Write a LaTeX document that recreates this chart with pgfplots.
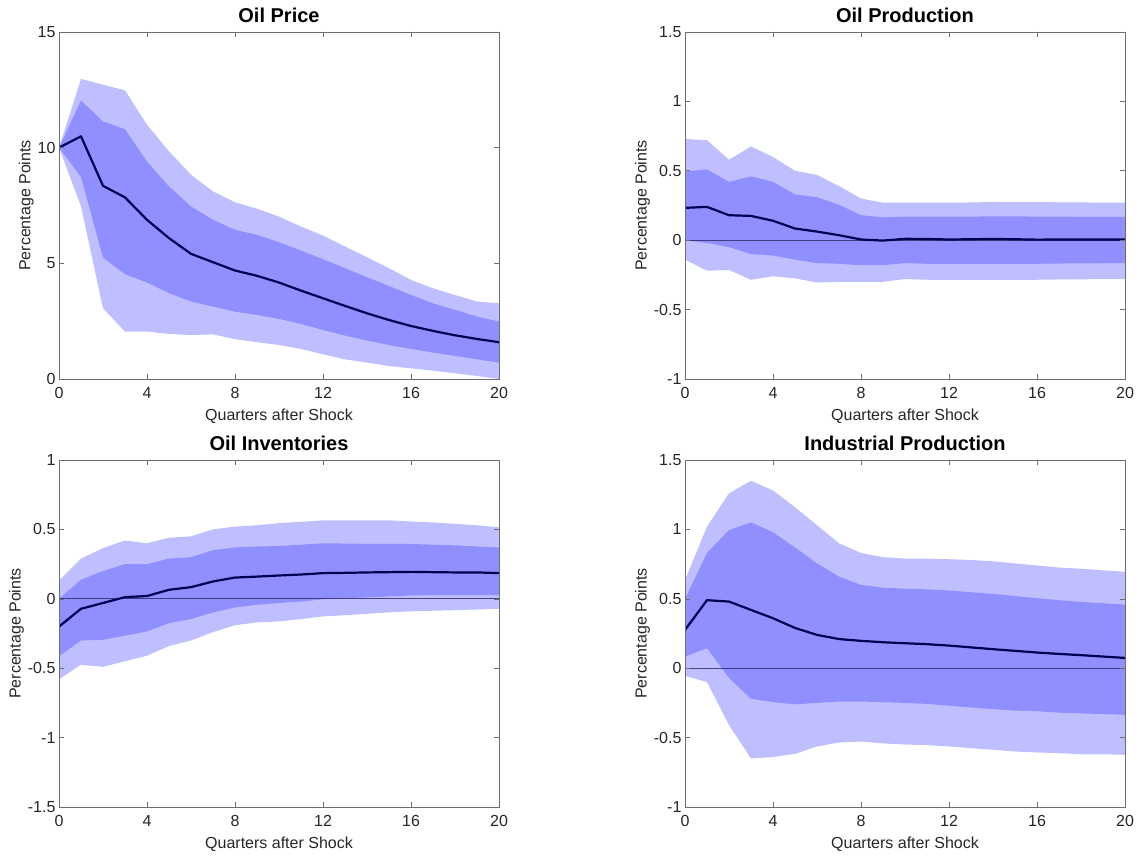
\documentclass[border=0pt]{standalone}
\usepackage{fontspec}
\setmainfont{Liberation Sans}
\usepackage{pgfplots}
\pgfplotsset{compat=1.18}
\usepackage{pgfplotstable}
\usepgfplotslibrary{fillbetween}

\definecolor{bandlight}{RGB}{191,191,255}
\definecolor{banddark}{RGB}{143,143,255}
\definecolor{irfline}{RGB}{0,0,80}
\definecolor{zeroline}{RGB}{40,40,90}
\definecolor{axisgray}{RGB}{110,110,110}
\definecolor{labelgray}{RGB}{38,38,38}

% columns: quarter, 90% lower, 68% lower, median, 68% upper, 90% upper
\pgfplotstableread{
q lo90 lo68 med hi68 hi90
0 10.00 10.00 10.00 10.00 10.00
1 7.46 8.73 10.49 12.04 12.97
2 3.06 5.25 8.35 11.13 12.72
3 2.05 4.53 7.85 10.80 12.48
4 2.05 4.17 6.88 9.40 10.99
5 1.95 3.71 6.09 8.32 9.84
6 1.90 3.35 5.41 7.46 8.83
7 1.93 3.13 5.05 6.88 8.11
8 1.72 2.91 4.69 6.45 7.64
9 1.59 2.77 4.46 6.23 7.36
10 1.47 2.60 4.17 5.91 7.02
11 1.30 2.38 3.82 5.55 6.59
12 1.07 2.12 3.49 5.18 6.20
13 0.85 1.88 3.16 4.79 5.73
14 0.71 1.66 2.84 4.40 5.26
15 0.56 1.47 2.55 4.02 4.79
16 0.46 1.30 2.29 3.63 4.28
17 0.36 1.14 2.08 3.27 3.92
18 0.25 1.00 1.89 2.99 3.63
19 0.13 0.85 1.73 2.70 3.35
20 0.00 0.71 1.59 2.48 3.27
}\oilprice

\pgfplotstableread{
q lo90 lo68 med hi68 hi90
0 -0.140 0.000 0.233 0.495 0.730
1 -0.220 -0.020 0.240 0.510 0.720
2 -0.215 -0.050 0.180 0.420 0.580
3 -0.285 -0.100 0.175 0.460 0.675
4 -0.260 -0.110 0.140 0.420 0.600
5 -0.275 -0.140 0.084 0.330 0.500
6 -0.305 -0.165 0.062 0.310 0.470
7 -0.300 -0.170 0.036 0.255 0.390
8 -0.300 -0.180 0.005 0.180 0.300
9 -0.300 -0.180 -0.003 0.165 0.270
10 -0.280 -0.165 0.010 0.170 0.270
11 -0.285 -0.170 0.009 0.170 0.270
12 -0.285 -0.170 0.005 0.170 0.270
13 -0.285 -0.170 0.007 0.170 0.272
14 -0.285 -0.170 0.009 0.172 0.275
15 -0.285 -0.170 0.007 0.172 0.275
16 -0.285 -0.170 0.004 0.170 0.275
17 -0.283 -0.168 0.005 0.170 0.273
18 -0.282 -0.167 0.005 0.168 0.272
19 -0.280 -0.166 0.005 0.168 0.271
20 -0.280 -0.165 0.005 0.168 0.270
}\oilprod

\pgfplotstableread{
q lo90 lo68 med hi68 hi90
0 -0.580 -0.415 -0.200 0.000 0.130
1 -0.475 -0.300 -0.072 0.137 0.290
2 -0.490 -0.295 -0.030 0.200 0.365
3 -0.450 -0.265 0.012 0.250 0.420
4 -0.410 -0.235 0.020 0.250 0.400
5 -0.340 -0.175 0.065 0.290 0.440
6 -0.300 -0.146 0.084 0.300 0.450
7 -0.240 -0.098 0.125 0.350 0.500
8 -0.190 -0.062 0.153 0.370 0.520
9 -0.170 -0.043 0.160 0.377 0.530
10 -0.163 -0.030 0.168 0.380 0.545
11 -0.146 -0.020 0.175 0.390 0.555
12 -0.127 -0.003 0.185 0.400 0.565
13 -0.118 0.005 0.187 0.398 0.565
14 -0.108 0.010 0.190 0.396 0.565
15 -0.098 0.017 0.192 0.395 0.565
16 -0.090 0.024 0.194 0.395 0.557
17 -0.086 0.026 0.192 0.390 0.550
18 -0.082 0.026 0.190 0.385 0.540
19 -0.077 0.026 0.190 0.377 0.530
20 -0.072 0.026 0.185 0.370 0.515
}\oilinv

\pgfplotstableread{
q lo90 lo68 med hi68 hi90
0 -0.055 0.084 0.276 0.500 0.635
1 -0.100 0.144 0.490 0.830 1.020
2 -0.410 -0.070 0.480 0.995 1.260
3 -0.650 -0.220 0.420 1.050 1.350
4 -0.640 -0.245 0.360 0.980 1.280
5 -0.617 -0.260 0.290 0.870 1.160
6 -0.564 -0.250 0.240 0.755 1.030
7 -0.535 -0.240 0.210 0.660 0.900
8 -0.528 -0.240 0.197 0.600 0.830
9 -0.542 -0.245 0.187 0.580 0.800
10 -0.550 -0.250 0.180 0.573 0.790
11 -0.554 -0.257 0.173 0.568 0.790
12 -0.564 -0.270 0.163 0.560 0.785
13 -0.576 -0.283 0.150 0.547 0.780
14 -0.588 -0.295 0.137 0.535 0.770
15 -0.600 -0.305 0.125 0.520 0.755
16 -0.607 -0.310 0.113 0.504 0.740
17 -0.612 -0.320 0.103 0.490 0.725
18 -0.620 -0.326 0.094 0.477 0.717
19 -0.620 -0.330 0.084 0.468 0.705
20 -0.624 -0.336 0.074 0.458 0.695
}\indprod

\pgfplotsset{
  irf/.style={
    scale only axis,
    width=440pt, height=347pt,
    anchor=north west,
    xmin=0, xmax=20,
    xtick={0,4,8,12,16,20},
    tick align=inside,
    major tick length=5pt,
    axis line style={draw=axisgray, line width=0.7pt},
    every tick/.style={draw=axisgray, line width=0.6pt},
    tick label style={font=\fontsize{16}{18}\selectfont, text=labelgray},
    xticklabel style={yshift=-5pt},
    /pgf/number format/assume math mode=true,
    label style={font=\fontsize{16}{18}\selectfont, text=labelgray},
    xlabel={Quarters after Shock},
    ylabel={Percentage Points},
    title style={font=\bfseries\fontsize{20}{22}\selectfont, yshift=0pt},
    xlabel style={yshift=-3pt},
    ylabel style={yshift=-3pt},
    axis on top,
  },
}

% two shaded credible bands, the zero line and the median response
\newcommand{\irfpanel}[1]{%
  \addplot[draw=none, name path=hiA, forget plot] table[x=q, y=hi90] {#1};
  \addplot[draw=none, name path=loA, forget plot] table[x=q, y=lo90] {#1};
  \addplot[bandlight, draw=none] fill between[of=hiA and loA];
  \addplot[draw=none, name path=hiB, forget plot] table[x=q, y=hi68] {#1};
  \addplot[draw=none, name path=loB, forget plot] table[x=q, y=lo68] {#1};
  \addplot[banddark, draw=none] fill between[of=hiB and loB];
  \addplot[zeroline, line width=0.7pt, opacity=0.8] coordinates {(0,0) (20,0)};
  \addplot[irfline, line width=2.2pt, line join=round] table[x=q, y=med] {#1};
}

\begin{document}
\begin{tikzpicture}
\path (0pt,0pt) rectangle (1140pt,-856pt);

\begin{axis}[irf, at={(59pt,-32pt)}, title={Oil Price},
  ymin=0, ymax=15, ytick={0,5,10,15}]
  \irfpanel{\oilprice}
\end{axis}

\begin{axis}[irf, at={(685pt,-32pt)}, title={Oil Production},
  ymin=-1, ymax=1.5, ytick={-1,-0.5,0,0.5,1,1.5}]
  \irfpanel{\oilprod}
\end{axis}

\begin{axis}[irf, at={(59pt,-460pt)}, title={Oil Inventories},
  ymin=-1.5, ymax=1, ytick={-1.5,-1,-0.5,0,0.5,1}]
  \irfpanel{\oilinv}
\end{axis}

\begin{axis}[irf, at={(685pt,-460pt)}, title={Industrial Production},
  ymin=-1, ymax=1.5, ytick={-1,-0.5,0,0.5,1,1.5}]
  \irfpanel{\indprod}
\end{axis}
\end{tikzpicture}
\end{document}
